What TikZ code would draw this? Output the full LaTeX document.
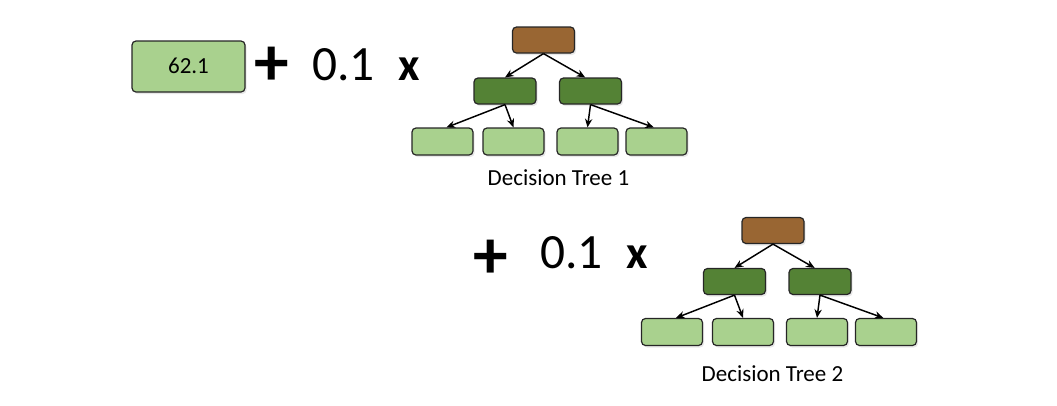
\documentclass[tikz,border=0pt]{standalone}
\usepackage{fontspec}
\setmainfont{Carlito}
\usetikzlibrary{arrows.meta,shadows}
\definecolor{leafgreen}{HTML}{A9D18E}
\definecolor{midgreen}{HTML}{548235}
\definecolor{rootbrown}{HTML}{996633}
\tikzset{
  box/.style={draw=black!85, line width=0.9pt, rounded corners=3pt, inner sep=0pt,
    drop shadow={opacity=0.18, shadow xshift=1.2pt, shadow yshift=-1.5pt}},
  leafbox/.style={box, fill=leafgreen, minimum width=45.75pt, minimum height=20.25pt},
  midbox/.style={box, fill=midgreen, minimum width=46.5pt, minimum height=19.5pt},
  rootbox/.style={box, fill=rootbrown, minimum width=46.5pt, minimum height=19.5pt},
  link/.style={line width=1.1pt, -{Stealth[length=6.5pt,width=5.5pt]}},
  small/.style={font=\fontsize{17.25}{20}\selectfont, inner sep=0pt},
  big/.style={font=\fontsize{37}{42}\selectfont, inner sep=0pt},
  bigx/.style={font=\fontsize{35}{40}\selectfont\bfseries, inner sep=0pt},
  plus/.style={font=\fontsize{52}{60}\selectfont\bfseries, inner sep=0pt}
}
\begin{document}
\begin{tikzpicture}[x=0.75pt,y=-0.75pt]
\useasboundingbox (0,0) rectangle (1057,405);
% base prediction
\node[box, fill=leafgreen, minimum width=84.75pt, minimum height=38.25pt] (base) at (188.5,66.5) {};
\node[small, anchor=base] (basetxt) at (188.5,73.3) {62.1};
% row 1
\node[plus] (plusA) at (272,66) {+};
\node[big, anchor=base] (lrA) at (343.5,80) {0.1};
\node[bigx, anchor=base] (xA) at (409,80) {x};
% tree 1
\begin{scope}
\node[rootbox] (r1) at (543.5,40) {};
\node[midbox] (m1a) at (505,91) {};
\node[midbox] (m1b) at (590.5,91) {};
\node[leafbox] (l1a) at (442.5,141.5) {};
\node[leafbox] (l1b) at (513.5,141.5) {};
\node[leafbox] (l1c) at (587.5,141.5) {};
\node[leafbox] (l1d) at (656.5,141.5) {};
\draw[link] (r1.south) -- (m1a.north);
\draw[link] (r1.south) -- ([xshift=-4pt]m1b.north);
\draw[link] (m1a.south) -- ([xshift=3pt]l1a.north);
\draw[link] (m1a.south) -- (l1b.north);
\draw[link] (m1b.south) -- (l1c.north);
\draw[link] (m1b.south) -- ([xshift=-2pt]l1d.north);
\end{scope}
\node[small, anchor=base] (cap1) at (558.5,185.5) {Decision Tree 1};
% row 2
\node[plus] (plusB) at (491,259) {+};
\node[big, anchor=base] (lrB) at (571.5,268) {0.1};
\node[bigx, anchor=base] (xB) at (637.5,268) {x};
% tree 2
\begin{scope}[shift={(229.5,190.5)}]
\node[rootbox] (r2) at (543.5,40) {};
\node[midbox] (m2a) at (505,91) {};
\node[midbox] (m2b) at (590.5,91) {};
\node[leafbox] (l2a) at (442.5,141.5) {};
\node[leafbox] (l2b) at (513.5,141.5) {};
\node[leafbox] (l2c) at (587.5,141.5) {};
\node[leafbox] (l2d) at (656.5,141.5) {};
\draw[link] (r2.south) -- (m2a.north);
\draw[link] (r2.south) -- ([xshift=-4pt]m2b.north);
\draw[link] (m2a.south) -- ([xshift=3pt]l2a.north);
\draw[link] (m2a.south) -- (l2b.north);
\draw[link] (m2b.south) -- (l2c.north);
\draw[link] (m2b.south) -- ([xshift=-2pt]l2d.north);
\end{scope}
\node[small, anchor=base] (cap2) at (772.5,381.5) {Decision Tree 2};
\end{tikzpicture}
\end{document}
